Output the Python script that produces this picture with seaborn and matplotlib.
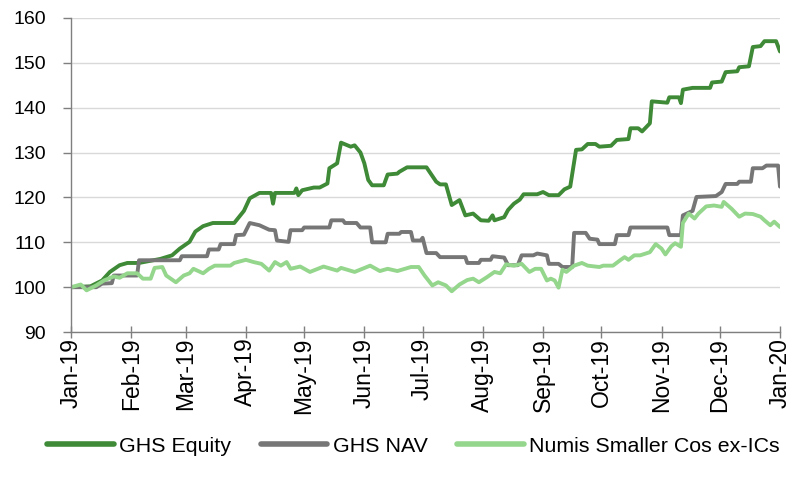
import matplotlib
matplotlib.use("Agg")
import matplotlib.pyplot as plt
import matplotlib.dates as mdates
import seaborn as sns
import pandas as pd

# ---- data (day offset from 1 Jan 2019, index value) ----
eq_days = [0, 10, 16, 20, 25, 29, 35, 46, 52, 56, 61, 64, 68, 73, 84, 89, 92, 97, 103, 104, 105, 115, 116, 117,
           119, 125, 128, 132, 133, 137, 139, 144, 146, 149, 151, 153, 155, 161, 163, 168, 169, 173, 183, 188,
           190, 193, 196, 200, 203, 207, 211, 215, 217, 218, 223, 225, 228, 231, 233, 240, 243, 246, 251, 254,
           257, 260, 263, 266, 270, 272, 278, 281, 287, 288, 292, 294, 298, 299, 307, 308, 313, 314, 315, 320,
           329, 330, 335, 337, 343, 344, 349, 351, 355, 357, 363, 365]
eq_vals = [100, 100.2, 101.5, 103.4, 104.9, 105.4, 105.4, 106.3, 107.1, 108.6, 110.1, 112.4, 113.6, 114.3, 114.3,
           117.0, 119.8, 121.0, 121.0, 118.6, 121.0, 121.0, 122.0, 120.5, 121.6, 122.2, 122.2, 123.1, 126.5, 127.6,
           132.2, 131.3, 131.6, 130.0, 127.6, 123.9, 122.7, 122.7, 125.1, 125.3, 125.7, 126.7, 126.7, 123.5, 122.9,
           122.9, 118.3, 119.4, 116.0, 116.4, 114.9, 114.8, 116.0, 114.9, 115.6, 117.2, 118.6, 119.5, 120.7, 120.7,
           121.2, 120.5, 120.5, 121.8, 122.4, 130.6, 130.7, 131.9, 131.9, 131.3, 131.5, 132.8, 133.0, 135.4, 135.4,
           134.7, 136.5, 141.4, 141.1, 142.3, 142.3, 141.0, 144.0, 144.4, 144.4, 145.6, 145.8, 147.9, 148.1, 149.0,
           149.2, 153.5, 153.7, 154.8, 154.8, 152.5]

nav_days = [0, 13, 16, 21, 22, 34, 35, 56, 57, 70, 71, 76, 77, 84, 85, 89, 92, 97, 102, 105, 106, 112, 113, 119,
            120, 133, 134, 140, 141, 147, 149, 154, 155, 162, 163, 169, 170, 175, 176, 180, 181, 183, 188, 190,
            203, 204, 210, 211, 216, 217, 223, 225, 230, 232, 238, 240, 245, 246, 251, 253, 258, 259, 265, 267,
            271, 272, 280, 281, 287, 288, 307, 308, 314, 315, 320, 322, 332, 335, 337, 343, 344, 350, 351, 356,
            358, 364, 365]
nav_vals = [100, 100, 100.8, 100.9, 102.6, 102.6, 106.0, 106.0, 106.9, 106.9, 108.4, 108.4, 109.6, 109.6, 111.6,
            111.7, 114.3, 113.8, 112.8, 112.7, 110.4, 110.1, 112.7, 112.7, 113.3, 113.3, 114.9, 114.9, 114.3, 114.3,
            113.3, 113.3, 110.0, 110.0, 111.9, 111.9, 112.3, 112.3, 110.4, 110.4, 111.0, 107.6, 107.6, 106.7, 106.7,
            105.4, 105.4, 106.1, 106.1, 106.9, 106.6, 104.9, 104.9, 107.1, 107.1, 107.5, 107.1, 105.2, 105.2, 104.5,
            104.5, 112.1, 112.1, 110.8, 110.6, 109.6, 109.6, 111.6, 111.6, 113.3, 113.3, 111.6, 111.6, 116.0, 117.0,
            120.1, 120.3, 121.2, 123.0, 123.0, 123.5, 123.5, 126.5, 126.5, 127.1, 127.1, 122.4]

num_days = [0, 5, 8, 13, 17, 22, 25, 29, 34, 37, 41, 43, 47, 49, 54, 58, 61, 63, 68, 71, 74, 82, 84, 90, 94, 98,
            102, 105, 108, 111, 113, 118, 123, 130, 137, 139, 146, 154, 159, 163, 168, 175, 179, 182, 186, 189,
            193, 196, 200, 204, 207, 210, 214, 218, 221, 224, 228, 232, 236, 239, 242, 245, 247, 249, 251, 253,
            255, 259, 263, 266, 272, 274, 279, 283, 285, 287, 290, 293, 298, 301, 304, 306, 309, 311, 314, 315,
            318, 321, 323, 327, 331, 335, 336, 340, 344, 347, 351, 355, 357, 360, 362, 365]
num_vals = [100, 100.6, 99.3, 100.4, 101.5, 102.4, 102.1, 103.1, 103.1, 101.9, 101.9, 104.3, 104.5, 102.6, 101.1,
            102.6, 103.1, 104.1, 103.1, 104.1, 104.8, 104.8, 105.4, 106.1, 105.6, 105.2, 103.7, 105.6, 104.8, 105.6,
            104.1, 104.6, 103.4, 104.6, 103.7, 104.3, 103.4, 104.8, 103.6, 104.1, 103.6, 104.5, 104.5, 102.6, 100.4,
            101.1, 100.4, 99.1, 100.6, 101.6, 101.9, 101.1, 102.2, 103.4, 103.1, 105.1, 104.8, 105.2, 103.4, 104.1,
            104.1, 101.5, 101.9, 101.5, 99.9, 103.9, 103.4, 104.8, 105.4, 104.8, 104.5, 104.8, 104.8, 106.1, 106.7,
            106.1, 107.1, 107.1, 107.8, 109.6, 108.6, 107.3, 109.1, 109.8, 109.0, 114.3, 116.4, 115.3, 116.4, 118.0,
            118.2, 117.9, 119.0, 117.5, 115.7, 116.4, 116.3, 115.7, 114.9, 113.8, 114.6, 113.4]

series_names = ["GHS Equity", "GHS NAV", "Numis Smaller Cos ex-ICs"]
series_colors = ["#3e8a36", "#767676", "#95d68d"]
y_ticks = [90, 100, 110, 120, 130, 140, 150, 160]

start = pd.Timestamp("2019-01-01")
frames = []
for name, d, v in zip(series_names, [eq_days, nav_days, num_days], [eq_vals, nav_vals, num_vals]):
    frames.append(pd.DataFrame({"date": start + pd.to_timedelta(d, unit="D"), "value": v, "series": name}))
df = pd.concat(frames, ignore_index=True)

sns.set_theme(style="white")
plt.rcParams["font.family"] = ["Liberation Sans", "DejaVu Sans"]

fig = plt.figure(figsize=(8.0, 4.82), dpi=100)
ax = fig.add_axes([0.0888, 0.311, 0.8862, 0.652])

sns.lineplot(data=df, x="date", y="value", hue="series", hue_order=series_names,
             palette=dict(zip(series_names, series_colors)), linewidth=2.8, ax=ax,
             legend=False, estimator=None, sort=True)

ax.set_xlim(pd.Timestamp("2019-01-01"), pd.Timestamp("2020-01-01"))
ax.set_ylim(90, 160)
ax.set_yticks(y_ticks)
ax.yaxis.grid(True, color="#d9d9d9", linewidth=1.0)
ax.xaxis.grid(False)
ax.set_axisbelow(True)

ax.xaxis.set_major_locator(mdates.MonthLocator())
ax.xaxis.set_major_formatter(mdates.DateFormatter("%b-%y"))
for lab in ax.get_xticklabels():
    lab.set_rotation(90)

for s in ["top", "right"]:
    ax.spines[s].set_visible(False)
for s in ["left", "bottom"]:
    ax.spines[s].set_color("#7f7f7f")
    ax.spines[s].set_linewidth(1.0)

ax.tick_params(axis="y", direction="out", length=6, width=1, color="#7f7f7f", pad=12, labelsize=14,
               labelcolor="black", left=True)
ax.tick_params(axis="x", direction="inout", length=8, width=1, color="#7f7f7f", pad=0, labelsize=16.5,
               labelcolor="black", bottom=True)
ax.set_xlabel("")
ax.set_ylabel("")

handles = [plt.Line2D([], [], color=c, linewidth=4) for c in series_colors]
leg = fig.legend(handles, series_names, loc="center", bbox_to_anchor=(0.517, 0.074), ncol=3, frameon=False,
                 handlelength=3.1, handletextpad=0.25, columnspacing=1.4, labelcolor="black",
                 prop={"family": ["Liberation Sans", "DejaVu Sans"], "size": 15.4})

fig.savefig("out.png", dpi=100)
